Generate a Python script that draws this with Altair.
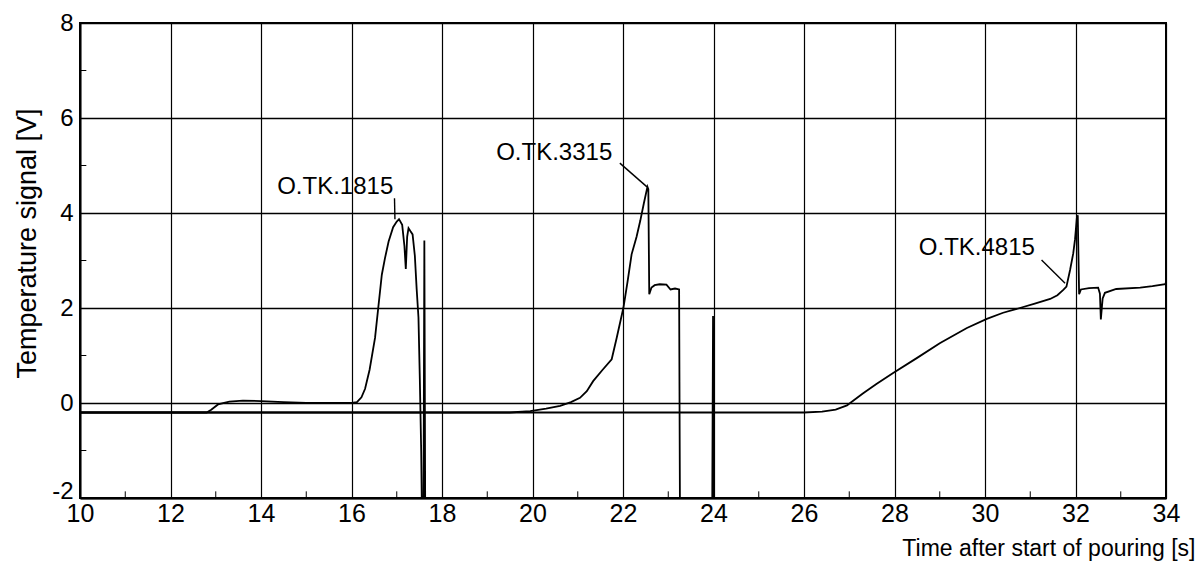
import altair as alt
import pandas as pd

# ---- data ----
t_1815 = [10.0, 12.8, 12.9, 13.05, 13.3, 13.6, 14.0, 14.5, 15.0, 15.5, 16.0, 16.12, 16.22, 16.3,
          16.4, 16.52, 16.6, 16.67, 16.74, 16.82, 16.92, 17.0, 17.05, 17.12, 17.17, 17.2, 17.23,
          17.26, 17.3, 17.35, 17.4, 17.44, 17.48, 17.51, 17.54, 17.56, 17.59, 17.61, 17.63]
v_1815 = [-0.2, -0.2, -0.14, -0.03, 0.03, 0.05, 0.04, 0.02, 0.0, 0.0, 0.0, 0.02, 0.12, 0.3,
          0.7, 1.37, 2.08, 2.7, 3.05, 3.4, 3.7, 3.82, 3.87, 3.75, 3.3, 2.82, 3.5,
          3.68, 3.62, 3.55, 3.1, 2.4, 1.8, 0.5, -1.0, -2.6, -2.6, 3.42, -2.6]

t_3315 = [10.0, 18.2, 19.5, 19.95, 20.3, 20.61, 20.85, 21.05, 21.2, 21.34, 21.55, 21.75, 21.86,
          22.01, 22.1, 22.19, 22.3, 22.38, 22.46, 22.54, 22.56, 22.58, 22.63, 22.7, 22.81, 22.96,
          23.05, 23.15, 23.24, 23.26, 23.97, 23.99, 24.01]
v_3315 = [-0.2, -0.2, -0.2, -0.17, -0.12, -0.06, 0.02, 0.11, 0.25, 0.46, 0.7, 0.92, 1.37,
          2.01, 2.55, 3.13, 3.5, 3.83, 4.2, 4.55, 4.5, 2.29, 2.43, 2.48, 2.5, 2.49,
          2.39, 2.41, 2.39, -2.6, -2.6, 1.83, -2.6]

t_4815 = [10.0, 26.0, 26.4, 26.7, 26.95, 27.02, 27.3, 27.6, 27.97, 28.5, 29.0, 29.6, 30.04,
          30.4, 30.77, 31.1, 31.44, 31.6, 31.73, 31.8, 31.88, 31.95, 31.99, 32.03, 32.05, 32.08,
          32.12, 32.3, 32.5, 32.54, 32.56, 32.6, 32.65, 32.9, 33.43, 33.7, 33.98, 34.0]
v_4815 = [-0.2, -0.2, -0.18, -0.14, -0.05, 0.0, 0.2, 0.4, 0.63, 0.95, 1.26, 1.58, 1.77,
          1.9, 2.0, 2.09, 2.19, 2.27, 2.38, 2.45, 2.8, 3.15, 3.45, 3.9, 3.95, 2.29,
          2.39, 2.42, 2.43, 2.3, 1.76, 2.2, 2.32, 2.4, 2.43, 2.46, 2.5, 2.54]

# annotation labels and leader lines
label_text = ["O.TK.1815", "O.TK.3315", "O.TK.4815"]
label_t = [15.64, 20.48, 29.82]
label_v = [4.55, 5.26, 3.26]
lead_t1 = [16.95, 21.93, 31.25]
lead_v1 = [4.31, 5.05, 3.01]
lead_t2 = [16.96, 22.53, 31.77]
lead_v2 = [3.87, 4.55, 2.52]

x_major = [10, 12, 14, 16, 18, 20, 22, 24, 26, 28, 30, 32, 34]
y_major = [-2, 0, 2, 4, 6, 8]
x_minor = [11, 13, 15, 17, 19, 21, 23, 25, 27, 29, 31, 33]
y_minor = [-1, 1, 3, 5, 7]

# ---- build tables ----
rows = []
for name, ts, vs in [("O.TK.1815", t_1815, v_1815), ("O.TK.3315", t_3315, v_3315),
                     ("O.TK.4815", t_4815, v_4815)]:
    for i, (t, v) in enumerate(zip(ts, vs)):
        rows.append({"series": name, "idx": i, "t": t, "v": v})
df = pd.DataFrame(rows)

df_lab = pd.DataFrame({"text": label_text, "t": label_t, "v": label_v})
df_lead = pd.DataFrame({"t1": lead_t1, "v1": lead_v1, "t2": lead_t2, "v2": lead_v2})
df_xmin = pd.DataFrame({"t": x_minor})
df_ymin = pd.DataFrame({"v": y_minor})

FONT = "Liberation Sans"

xscale = alt.Scale(domain=[10, 34], nice=False, zero=False)
yscale = alt.Scale(domain=[-2, 8], nice=False, zero=False)

xaxis = alt.Axis(values=x_major, grid=True, gridColor="black", gridWidth=1.2, gridOpacity=1,
                 ticks=False, domainColor="black", domainWidth=2, labelFont=FONT,
                 labelFontSize=25, labelColor="black", labelPadding=3, labelFlush=False,
                 labelExpr="'' + datum.value",
                 title="Time after start of pouring [s]", titleFont=FONT, titleFontSize=23,
                 titleFontWeight="normal", titleColor="black", titleAnchor="end",
                 titleAlign="right", titleBaseline="middle", titleX=1115, titleY=50)
yaxis = alt.Axis(values=y_major, grid=True, gridColor="black", gridWidth=1.7, gridOpacity=1,
                 ticks=False, domainColor="black", domainWidth=2, labelFont=FONT,
                 labelFontSize=24, labelColor="black", labelPadding=7, labelFlush=False,
                 labelExpr="'' + datum.value",
                 labelBaseline={"condition": {"test": "datum.value == -2", "value": "alphabetic"},
                                "value": "middle"},
                 title="Temperature signal [V]", titleFont=FONT, titleFontSize=27,
                 titleFontWeight="normal", titleColor="black", titleAngle=270,
                 titleAlign="center", titleBaseline="middle", titleX=-53, titleY=220)

base = alt.Chart(df).mark_line(clip=True, color="black", strokeWidth=1.8).encode(
    x=alt.X("t:Q", scale=xscale, axis=xaxis),
    y=alt.Y("v:Q", scale=yscale, axis=yaxis),
    detail="series:N",
    order="idx:Q",
)

xminor = alt.Chart(df_xmin).mark_rule(color="black", strokeWidth=1).encode(
    x=alt.X("t:Q", scale=xscale), y=alt.datum(-2), y2=alt.datum(-1.86))
yminor = alt.Chart(df_ymin).mark_rule(color="black", strokeWidth=1).encode(
    y=alt.Y("v:Q", scale=yscale), x=alt.datum(10), x2=alt.datum(10.14))

leads = alt.Chart(df_lead).mark_rule(color="black", strokeWidth=1.4).encode(
    x=alt.X("t1:Q", scale=xscale), y=alt.Y("v1:Q", scale=yscale), x2="t2:Q", y2="v2:Q")

labels = alt.Chart(df_lab).mark_text(font=FONT, fontSize=24, color="black",
                                     align="center", baseline="middle").encode(
    x=alt.X("t:Q", scale=xscale), y=alt.Y("v:Q", scale=yscale), text="text:N")

chart = alt.layer(base, xminor, yminor, leads, labels).properties(
    width=1086, height=475,
    autosize=alt.AutoSizeParams(type="none"),
    padding={"left": 80, "top": 23, "right": 34, "bottom": 70},
    background="white",
).configure_view(stroke="black", strokeWidth=2)

chart.save("out.html", embed_options={"renderer": "svg", "actions": False})
